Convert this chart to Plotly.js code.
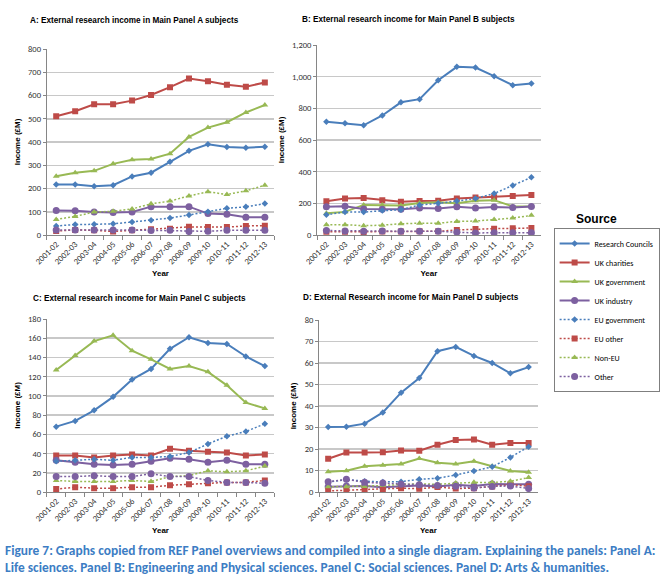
<!DOCTYPE html>
<html><head><meta charset="utf-8">
<script src="https://cdn.plot.ly/plotly-3.0.1.min.js"></script>
<style>body{margin:0;background:#fff}#chart{width:660px;height:583px}</style>
</head><body><div id="chart"></div>
<script>
// ---------- DATA ----------
const years = ['2001-02','2002-03','2003-04','2004-05','2005-06','2006-07','2007-08','2008-09','2009-10','2010-11','2011-12','2012-13'];
const sources = ['Research Councils','UK charities','UK government','UK industry','EU government','EU other','Non-EU','Other'];

// Panel A (Life sciences), £M
const aResearchCouncils = [217,217,210,214,252,268,315,362,390,379,375,380];
const aUKCharities      = [511,532,562,562,578,602,636,673,661,646,638,656];
const aUKGovernment     = [253,268,276,306,324,327,350,422,462,485,527,559];
const aUKIndustry       = [105,104,99,97,99,122,122,122,92,89,76,76];
const aEUGovernment     = [39,45,46,48,56,63,73,86,100,115,121,135];
const aEUOther          = [17,22,20,15,20,25,27,35,34,34,39,40];
const aNonEU            = [67,80,99,102,112,134,146,168,186,174,190,214];
const aOther            = [21,22,22,22,21,19,20,15,16,20,20,20];

// Panel B (Engineering & Physical sciences), £M
const bResearchCouncils = [715,706,693,755,838,858,977,1062,1058,1003,946,957];
const bUKCharities      = [213,231,233,220,210,214,217,231,237,239,247,253];
const bUKGovernment     = [137,146,190,189,186,202,207,200,217,220,180,180];
const bUKIndustry       = [178,181,165,162,163,170,167,179,170,177,173,180];
const bEUGovernment     = [128,145,145,154,160,190,200,215,230,262,312,364];
const bEUOther          = [20,20,18,22,22,23,23,32,38,40,42,44];
const bNonEU            = [65,65,59,62,71,75,74,86,88,98,107,124];
const bOther            = [28,26,24,26,24,23,23,18,13,14,15,14];

// Panel C (Social sciences), £M
const cResearchCouncils = [68,74,85,99,117,128,149,161,155,154,141,131];
const cUKCharities      = [38,38,36,38,39,38,45,43,42,41,38,39];
const cUKGovernment     = [127,142,157,163,147,138,128,131,125,111,93,87];
const cUKIndustry       = [33,31,29,28,29,32,35,34,31,33,29,29];
const cEUGovernment     = [32,33,34,33,36,36,37,41,50,58,63,71];
const cEUOther          = [3,5,4,4,5,5,7,8,9,10,10,12];
const cNonEU            = [12,11,11,11,12,11,16,17,22,21,22,27];
const cOther            = [16,16,17,16,16,19,16,16,12,10,10,9];

// Panel D (Arts & humanities), £M
const dResearchCouncils = [30.2,30.4,31.8,37,46.2,53,65.5,67.5,63.3,60,55.2,58.1];
const dUKCharities      = [15.5,18.4,18.4,18.5,19.3,19.2,22,24.2,24.4,22,22.8,22.8];
const dUKGovernment     = [9.4,9.9,12,12.5,13,15.6,13.6,13,14.3,12,9.8,9.2];
const dUKIndustry       = [2.5,2.8,2.8,2.2,2.7,3.0,2.6,3.4,2.8,3.7,3.6,3.6];
const dEUGovernment     = [4.6,5.8,5.0,4.7,4.8,5.9,6.4,7.9,9.8,11.7,16.1,21];
const dEUOther          = [0.5,0.8,1.1,1.4,1.8,1.5,2.3,1.6,1.8,2.6,3.5,2.7];
const dNonEU            = [2.4,2.5,2.6,3.0,3.5,3.8,3.6,4.2,4.5,4.4,5.0,6.7];
const dOther            = [4.8,5.9,4.5,4.2,3.6,3.4,3.0,2.7,1.9,2.6,2.8,1.6];

const panelTitles = [
  'A: External research income in Main Panel A subjects',
  'B: External research income for Main Panel B subjects',
  'C: External research income for Main Panel C subjects',
  'D: External Research income for Main Panel D subjects'
];
const yRanges = [[0,800],[0,1200],[0,180],[0,80]];
const yTicks  = [100,200,20,10];

const panels = [
  [aResearchCouncils,aUKCharities,aUKGovernment,aUKIndustry,aEUGovernment,aEUOther,aNonEU,aOther],
  [bResearchCouncils,bUKCharities,bUKGovernment,bUKIndustry,bEUGovernment,bEUOther,bNonEU,bOther],
  [cResearchCouncils,cUKCharities,cUKGovernment,cUKIndustry,cEUGovernment,cEUOther,cNonEU,cOther],
  [dResearchCouncils,dUKCharities,dUKGovernment,dUKIndustry,dEUGovernment,dEUOther,dNonEU,dOther]
];

// ---------- STYLE ----------
const W = 660, H = 583;
const colors  = ['#4A7EBB','#BE4B48','#98B954','#7D60A0','#4A7EBB','#BE4B48','#98B954','#7D60A0'];
const dashes  = ['solid','solid','solid','solid','2px,2px','2px,2px','2px,2px','2px,2px'];
const symbols = ['diamond','square','triangle-up','circle','diamond','square','triangle-up','circle'];
const msizes  = [5,6,6,7,5,6,6,7];
// plot-area boxes in pixels [left, right, top, bottom]
const boxes = [[47,276,49,235],[319,544,45,235],[47,276,319,492],[321,541,320,492]];
const titlePos = [[28,21],[302,19],[31,298],[303,297]];

const px = v => v / W, py = v => 1 - v / H;
const tickFont = {family:'Carlito, Lato, "Liberation Sans", sans-serif', size:8.5, color:'#333'};
const axTitleFont = {family:'"Liberation Sans", Arial, sans-serif', size:8, color:'#000', weight:'bold'};

const traces = [];
panels.forEach((series, p) => {
  const sfx = p === 0 ? '' : String(p + 1);
  series.forEach((vals, i) => {
    traces.push({
      x: years, y: vals, xaxis: 'x' + sfx, yaxis: 'y' + sfx,
      type: 'scatter', mode: 'lines+markers', name: sources[i],
      legendgroup: sources[i], showlegend: p === 0,
      line: {color: colors[i], width: i < 4 ? 2 : 1.5, dash: dashes[i]},
      marker: {symbol: symbols[i], size: msizes[i], color: colors[i]},
      hoverinfo: 'x+y+name'
    });
  });
});

const layout = {
  width: W, height: H, margin: {l:0, r:0, t:0, b:0},
  paper_bgcolor: '#fff', plot_bgcolor: '#fff',
  font: {family:'"Liberation Sans", Arial, sans-serif', color:'#000'},
  showlegend: true,
  legend: {
    x: px(557), y: py(228), xanchor: 'left', yanchor: 'top',
    bordercolor: '#7f7f7f', borderwidth: 1, bgcolor: '#fff',
    font: {family:'Carlito, Lato, "Liberation Sans", sans-serif', size:8, color:'#000'},
    itemwidth: 30, tracegroupgap: 0
  },
  annotations: [],
};

boxes.forEach((b, p) => {
  const sfx = p === 0 ? '' : String(p + 1);
  layout['xaxis' + sfx] = {
    domain: [px(b[0]), px(b[1])], anchor: 'y' + sfx, type: 'category',
    range: [-0.5, 11.5], tickangle: -45, tickfont: tickFont,
    showline: true, linecolor: '#868686', linewidth: 1,
    ticks: 'outside', tickson: 'boundaries', ticklen: 4, tickcolor: '#868686',
    showgrid: false, zeroline: false, fixedrange: true,
    title: {text: 'Year', font: axTitleFont, standoff: 4}
  };
  layout['yaxis' + sfx] = {
    domain: [py(b[3]), py(b[2])], anchor: 'x' + sfx,
    range: yRanges[p], dtick: yTicks[p], tickformat: ',',
    tickfont: tickFont, showline: true, linecolor: '#868686', linewidth: 1,
    ticks: 'outside', ticklen: 3, tickcolor: '#868686',
    gridcolor: '#C8C8C8', gridwidth: 1.5, zeroline: false, fixedrange: true,
    title: {text: 'Income (£M)', font: axTitleFont, standoff: 6}
  };
  layout.annotations.push({
    text: panelTitles[p], xref: 'paper', yref: 'paper',
    x: px(titlePos[p][0]), y: py(titlePos[p][1]), xanchor: 'left', yanchor: 'middle',
    showarrow: false, font: {family:'"Liberation Sans", Arial, sans-serif', size:8.2, color:'#000', weight:'bold'}
  });
});

layout.annotations.push({
  text: 'Source', xref: 'paper', yref: 'paper', x: px(600), y: py(219),
  xanchor: 'center', yanchor: 'middle', showarrow: false,
  font: {family:'"Liberation Sans", Arial, sans-serif', size:12, color:'#000', weight:'bold'}
});
layout.annotations.push({
  text: 'Figure 7: Graphs copied from REF Panel overviews and compiled into a single diagram. Explaining the panels: Panel A:<br>Life sciences. Panel B: Engineering and Physical sciences. Panel C: Social sciences. Panel D: Arts &amp; humanities.',
  xref: 'paper', yref: 'paper', x: px(3), y: py(559), xanchor: 'left', yanchor: 'middle', align: 'left',
  showarrow: false,
  font: {family:'Carlito, Lato, "Open Sans", sans-serif', size:13.4, color:'#3C7DC4', weight:'bold'}
});

Plotly.newPlot('chart', traces, layout, {displayModeBar: false, staticPlot: true});
</script>
</body></html>
